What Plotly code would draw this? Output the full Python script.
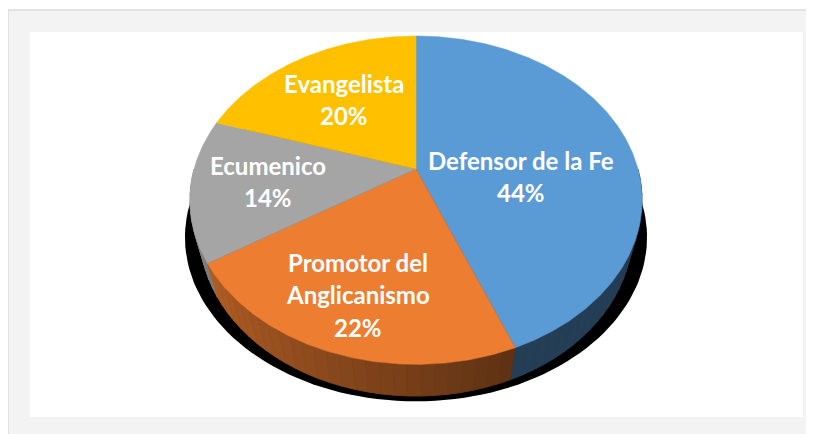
import math
import plotly.graph_objects as go

# ---------------- data ----------------
categories = ["Defensor de la Fe", "Promotor del Anglicanismo", "Ecumenico", "Evangelista"]
label_lines = [["Defensor de la Fe"], ["Promotor del", "Anglicanismo"], ["Ecumenico"], ["Evangelista"]]
values = [44, 22, 14, 20]
colors = ["#5B9BD5", "#ED7D31", "#A5A5A5", "#FFC000"]

# ---------------- 3D pie geometry (perspective) ----------------
CX, CY = 416.0, 169.0          # projected centre of the top face (px)
F = 819.0                      # focal scale
ELEV = math.radians(45.5)      # tilt
DIST = 3.69                    # camera distance (in radii)
THICK = 0.23                   # pie thickness (in radii)

def proj(theta_deg, r=1.0, h=0.0):
    t = math.radians(theta_deg)
    X = r * math.sin(t)
    Z = r * math.cos(t)
    hc = -h * math.cos(ELEV) + Z * math.sin(ELEV)
    depth = DIST + Z * math.cos(ELEV) + h * math.sin(ELEV)
    return CX + F * X / depth, CY - F * hc / depth

def arc(a0, a1, r=1.0, h=0.0, step=1.0):
    n = max(2, int(abs(a1 - a0) / step) + 1)
    return [proj(a0 + (a1 - a0) * i / (n - 1), r, h) for i in range(n)]

def shade(hex_color, k):
    hc = hex_color.lstrip("#")
    rgb = [int(hc[i:i + 2], 16) for i in (0, 2, 4)]
    return "rgb(%d,%d,%d)" % tuple(max(0, min(255, round(c * k))) for c in rgb)

total = sum(values)
bounds = []
acc = 0.0
for v in values:
    a0 = acc / total * 360.0
    acc += v
    a1 = acc / total * 360.0
    bounds.append((a0, a1))

fig = go.Figure()

def poly(pts, color, name=None, lw=0.0):
    xs = [p[0] for p in pts] + [pts[0][0]]
    ys = [p[1] for p in pts] + [pts[0][1]]
    fig.add_trace(go.Scatter(x=xs, y=ys, mode="lines", fill="toself",
                             fillcolor=color, line=dict(width=lw, color=color),
                             hoverinfo="skip" if name is None else "text",
                             text=name, showlegend=False))

# shadow (under the body)
shadow = []
for p in arc(0, 360, step=2.0):
    shadow.append((CX + (p[0] - CX) * 1.022, p[1] + 37))
poly(shadow, "#000000")

# side walls, drawn back to front
segs = []
for i, (a0, a1) in enumerate(bounds):
    lo, hi = max(a0, 90.0), min(a1, 270.0)
    if hi <= lo:
        continue
    n = max(1, int(math.ceil((hi - lo) / 3.0)))
    for j in range(n):
        s0 = lo + (hi - lo) * j / n
        s1 = lo + (hi - lo) * (j + 1) / n
        segs.append((i, s0, s1))
segs.sort(key=lambda s: -abs((s[1] + s[2]) / 2 - 180.0))
for i, s0, s1 in segs:
    mid = (s0 + s1) / 2
    if mid <= 160:
        k = 0.40
    else:
        k = 0.40 + (min(mid, 262) - 160) / (237.6 - 160) * 0.35
    pts = [proj(s0), proj(s1), proj(s1, h=THICK), proj(s0, h=THICK)]
    poly(pts, shade(colors[i], k), lw=0.8)

# top faces
for i, (a0, a1) in enumerate(bounds):
    pts = [(CX, CY)] + arc(a0, a1, step=0.5)
    poly(pts, colors[i], categories[i], lw=0.5)

# ---------------- labels ----------------
label_pos = {  # centre of first line (px)
    0: (521, 160),
    1: (358, 262),
    2: (268, 165),
    3: (344, 83),
}
LINE = 32.5
for i, lines in enumerate(label_lines):
    pct = "%d%%" % round(values[i] / total * 100)
    x0, y0 = label_pos[i]
    for j, t in enumerate(lines + [pct]):
        fig.add_annotation(x=x0, y=y0 + j * LINE, text=t, showarrow=False,
                           xref="x", yref="y", xanchor="center", yanchor="middle",
                           font=dict(family="Lato", size=24, color="white", weight="bold"))

# ---------------- frame ----------------
fig.add_shape(type="rect", x0=8, y0=10, x1=820, y1=440, layer="below",
              fillcolor="#f3f3f3", line=dict(color="#dcdcdc", width=1.5))
fig.add_shape(type="rect", x0=30, y0=32, x1=803, y1=417, layer="below",
              fillcolor="#ffffff", line=dict(width=0))

# page body has an 8px margin: the figure area starts at page pixel 8
fig.update_layout(
    width=806, height=426,
    margin=dict(l=0, r=0, t=0, b=0),
    paper_bgcolor="white", plot_bgcolor="white",
    xaxis=dict(range=[8, 814], visible=False, fixedrange=True),
    yaxis=dict(range=[434, 8], visible=False, fixedrange=True),
    showlegend=False,
)
fig.write_html("out.html")
